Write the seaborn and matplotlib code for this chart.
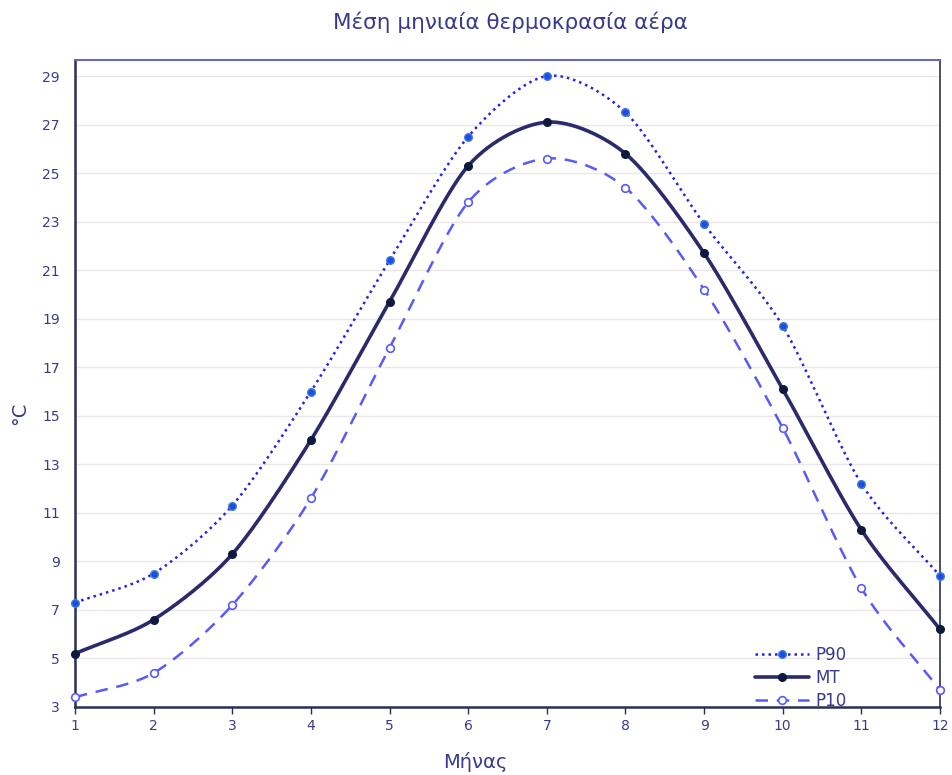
import numpy as np
import pandas as pd
import matplotlib
matplotlib.use("Agg")
import matplotlib.pyplot as plt
from matplotlib.lines import Line2D
import seaborn as sns

months = [1, 2, 3, 4, 5, 6, 7, 8, 9, 10, 11, 12]
p90 = [7.3, 8.5, 11.3, 16.0, 21.4, 26.5, 29.0, 27.5, 22.9, 18.7, 12.2, 8.4]
mt = [5.2, 6.6, 9.3, 14.0, 19.7, 25.3, 27.1, 25.8, 21.7, 16.1, 10.3, 6.2]
p10 = [3.4, 4.4, 7.2, 11.6, 17.8, 23.8, 25.6, 24.4, 20.2, 14.5, 7.9, 3.7]
yticks = list(range(3, 30, 2))

title = "Μέση μηνιαία θερμοκρασία αέρα"
xlabel = "Μήνας"
ylabel = "°C"


def smooth(x, y, n=30, k=0.85):
    """Cardinal-spline rendering of the line through the points."""
    x = np.asarray(x, float)
    y = np.asarray(y, float)
    px = np.concatenate([[2 * x[0] - x[1]], x, [2 * x[-1] - x[-2]]])
    py = np.concatenate([[2 * y[0] - y[1]], y, [2 * y[-1] - y[-2]]])
    t = np.linspace(0, 1, n, endpoint=False)
    h00 = 2 * t ** 3 - 3 * t ** 2 + 1
    h10 = t ** 3 - 2 * t ** 2 + t
    h01 = -2 * t ** 3 + 3 * t ** 2
    h11 = t ** 3 - t ** 2
    xs, ys = [], []
    for i in range(1, len(px) - 2):
        for arr, out in ((px, xs), (py, ys)):
            m1 = k * (arr[i + 1] - arr[i - 1]) / 2
            m2 = k * (arr[i + 2] - arr[i]) / 2
            out.extend(h00 * arr[i] + h10 * m1 + h01 * arr[i + 1] + h11 * m2)
    xs.append(x[-1]); ys.append(y[-1])
    return np.array(xs), np.array(ys)


sns.set_theme(style="white")
plt.rcParams["font.family"] = ["DejaVu Sans"]

fig = plt.figure(figsize=(9.52, 7.75), dpi=100)
ax = fig.add_axes([75 / 952, 1 - 707 / 775, 865 / 952, 647 / 775])

c_p90 = "#2323e0"
c_p90_m = "#1f4fd8"
c_mt = "#2b2b6b"
c_mt_m = "#0d1a3d"
c_p10 = "#5a5af5"
txt = "#3a3a8c"

series = [
    ("P90", p90, dict(color=c_p90, lw=1.8, ls=(0, (1, 1.6))),
     dict(marker="o", mfc=c_p90_m, mec="#3d7de8", ms=5.5)),
    ("MT", mt, dict(color=c_mt, lw=2.6, ls="-"),
     dict(marker="o", mfc=c_mt_m, mec=c_mt_m, ms=5.5)),
    ("P10", p10, dict(color=c_p10, lw=1.8, ls=(0, (5, 3.5))),
     dict(marker="o", mfc="white", mec=c_p10, ms=5.5, mew=1.2)),
]

handles = []
for name, vals, lstyle, mstyle in series:
    sx, sy = smooth(months, vals)
    df_s = pd.DataFrame({"x": sx, "y": sy})
    sns.lineplot(data=df_s, x="x", y="y", ax=ax, color=lstyle["color"],
                 linewidth=lstyle["lw"], linestyle=lstyle["ls"], sort=False,
                 estimator=None, zorder=3)
    ax.plot(months, vals, ls="none", zorder=4, clip_on=False, **mstyle)
    handles.append(Line2D([0], [0], color=lstyle["color"], lw=lstyle["lw"],
                          ls=lstyle["ls"], **mstyle))

ax.set_xlim(1, 12)
ax.set_ylim(3, 29.66)
ax.set_xticks(months)
ax.set_yticks(yticks)
ax.yaxis.grid(True, color="#ece6e8", lw=1)
ax.xaxis.grid(False)

for s in ["left", "bottom"]:
    ax.spines[s].set_color("#2b2f55")
    ax.spines[s].set_linewidth(1.8)
ax.spines["top"].set_color("#6a6aa8")
ax.spines["top"].set_linewidth(1.5)
ax.spines["right"].set_color("#2b2f55")
ax.spines["right"].set_linewidth(1.2)

ax.tick_params(axis="x", direction="out", length=5, width=1, color="#2b2f55",
               labelsize=10, labelcolor=txt, pad=4, bottom=True)
ax.tick_params(axis="y", length=0, labelsize=10, labelcolor=txt, pad=11)

ax.set_xlabel("")
ax.set_ylabel("")
fig.text(475 / 952, 1 - 762 / 775, xlabel, fontsize=14, color=txt,
         ha="center", va="center")
fig.text(20 / 952, 1 - 413 / 775, ylabel, fontsize=14, color=txt,
         ha="center", va="center", rotation=90)
fig.text(510 / 952, 1 - 22 / 775, title, fontsize=15.5, color=txt,
         ha="center", va="center")

ax.legend(handles, ["P90", "MT", "P10"], loc="lower left",
          bbox_to_anchor=(0.769, -0.028), frameon=False, fontsize=12,
          handlelength=3.2, labelcolor=txt, labelspacing=0.3,
          handletextpad=0.4, borderpad=0.4)

fig.savefig("out.png", dpi=100)
